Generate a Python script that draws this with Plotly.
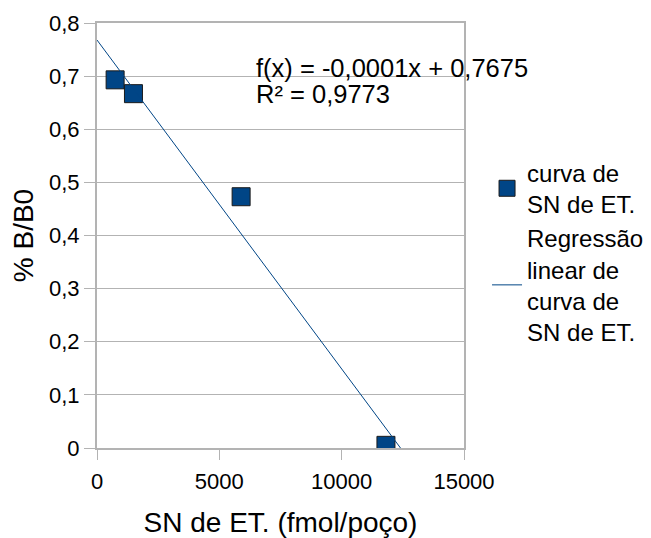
import numpy as np
import plotly.graph_objects as go

# Data
x_vals = [740, 1490, 5890, 11810]
y_vals = [0.693, 0.667, 0.473, 0.005]

x_tickvals = [0, 5000, 10000, 15000]
x_ticktext = ["0", "5000", "10000", "15000"]
y_tickvals = [0, 0.1, 0.2, 0.3, 0.4, 0.5, 0.6, 0.7, 0.8]
y_ticktext = ["0", "0,1", "0,2", "0,3", "0,4", "0,5", "0,6", "0,7", "0,8"]

series_name = "curva de<br>SN de ET."
trend_name = "Regressão<br>linear de<br>curva de<br>SN de ET."
equation_lines = ["f(x) = -0,0001x + 0,7675", "R² = 0,9773"]

# Linear regression computed from the data
slope, intercept = np.polyfit(x_vals, y_vals, 1)
line_x = np.array([0, 15000])
line_y = slope * line_x + intercept

FONT = "Liberation Sans, Arial, sans-serif"
BLUE = "#004586"
GRID = "#b3b3b3"

fig = go.Figure()
fig.add_trace(go.Scatter(
    x=x_vals, y=y_vals, mode="markers", name=series_name,
    marker=dict(symbol="square", size=18, color=BLUE,
                line=dict(color="#1a1a1a", width=1)),
))
fig.add_trace(go.Scatter(
    x=line_x, y=line_y, mode="lines", name=trend_name,
    line=dict(color=BLUE, width=1),
))

for i, txt in enumerate(equation_lines):
    fig.add_annotation(
        x=0.429, y=0.716 - i * 0.050, xref="paper", yref="y",
        xanchor="left", yanchor="middle",
        text=txt, showarrow=False, align="left",
        font=dict(family=FONT, size=25.5, color="#000000"),
    )

fig.update_layout(
    width=643, height=530,
    margin=dict(l=89, r=187, t=15, b=90, autoexpand=False),
    paper_bgcolor="white", plot_bgcolor="white",
    font=dict(family=FONT, color="#000000"),
    showlegend=True,
    legend=dict(
        xref="container", yref="container",
        x=0.745, y=0.731, xanchor="left", yanchor="top",
        font=dict(family=FONT, size=24, color="#000000"),
        bgcolor="rgba(0,0,0,0)", tracegroupgap=2, itemwidth=30,
    ),
    xaxis=dict(
        range=[0, 15000], tickvals=x_tickvals, ticktext=x_ticktext,
        showgrid=False, zeroline=False, showline=True, linecolor=GRID,
        linewidth=2, mirror=True, ticks="outside", ticklen=10,
        tickcolor=GRID, tickwidth=1, automargin=False,
        ticklabelstandoff=3,
        tickfont=dict(family=FONT, size=22, color="#000000"),
        title=dict(text="SN de ET. (fmol/poço)",
                   font=dict(family=FONT, size=28, color="#000000"),
                   standoff=20),
    ),
    yaxis=dict(
        range=[0, 0.8], tickvals=y_tickvals, ticktext=y_ticktext,
        showgrid=True, gridcolor=GRID, gridwidth=1,
        zeroline=False, showline=True, linecolor=GRID, linewidth=2,
        mirror=True, ticks="outside", ticklen=11, tickcolor=GRID,
        tickwidth=1, automargin=False,
        tickfont=dict(family=FONT, size=22, color="#000000"),
        title=dict(text="% B/B0",
                   font=dict(family=FONT, size=28, color="#000000"),
                   standoff=12),
    ),
)

fig.write_html("out.html")
